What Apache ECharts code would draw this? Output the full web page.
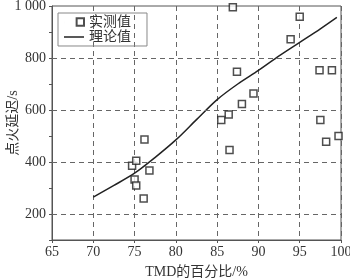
<!DOCTYPE html>
<html>
<head>
<meta charset="utf-8">
<script src="https://cdn.jsdelivr.net/npm/echarts@6/dist/echarts.min.js"></script>
<style>html,body{margin:0;padding:0;background:#fff;}#c{width:350px;height:278px;}</style>
</head>
<body>
<div id="c"></div>
<script>
var measuredX = [74.7, 75.2, 75.0, 75.2, 76.8, 76.1, 76.2, 86.9, 95.0, 93.9, 87.4, 97.4, 98.9, 89.4, 88.0, 86.4, 85.5, 97.5, 98.2, 99.7, 86.5];
var measuredY = [386, 405, 333, 310, 367, 260, 487, 995, 959, 872, 747, 753, 753, 663, 623, 583, 562, 562, 478, 500, 446];
var theoryX = [70, 72.5, 75, 77.5, 80, 82.5, 85, 87.5, 90, 92.5, 95, 97.5, 99.5];
var theoryY = [265, 310, 357, 418, 485, 563, 640, 700, 752, 808, 860, 912, 956];
var gridLinesY = [200, 400, 600, 800];
var seriesNames = ['实测值', '理论值'];

var FONT = "'Liberation Serif', 'Noto Sans CJK SC', serif";
var TXT = '#333';
var AX = '#555';

var chart = echarts.init(document.getElementById('c'));
chart.setOption({
  animation: false,
  textStyle: { fontFamily: FONT },
  grid: { left: 52, right: 9, top: 6, bottom: 38, show: true, borderColor: AX, borderWidth: 1, outerBoundsMode: 'none', containLabel: false },
  legend: {
    orient: 'vertical', left: 58, top: 13,
    data: [
      { name: seriesNames[0], icon: 'path://M0,4 L0.01,4 M12,0 H19 V7 H12 Z' },
      { name: seriesNames[1], icon: 'path://M0,0 H20 V1.5 H0 Z', itemStyle: { color: '#222', borderWidth: 0 } }
    ],
    borderColor: '#888', borderWidth: 1, padding: [2, 16, 2, 5],
    itemWidth: 20, itemHeight: 8, itemGap: 1,
    textStyle: { fontFamily: FONT, fontSize: 14, color: TXT }
  },
  xAxis: {
    type: 'value', min: 65, max: 100, interval: 5,
    name: 'TMD的百分比/%', nameLocation: 'middle', nameGap: 25, nameMoveOverlap: false,
    nameTextStyle: { fontFamily: FONT, fontSize: 14, color: TXT },
    axisLine: { lineStyle: { color: AX } },
    axisTick: { show: true, length: 3, lineStyle: { color: AX } },
    axisLabel: { fontFamily: FONT, fontSize: 14, color: TXT, margin: 5 },
    splitLine: { show: true, lineStyle: { type: [5, 4], color: '#666' } }
  },
  yAxis: {
    type: 'value', min: 100, max: 1000, interval: 100,
    name: '点火延迟/s', nameLocation: 'middle', nameGap: 32, nameRotate: 90, nameMoveOverlap: false,
    nameTextStyle: { fontFamily: FONT, fontSize: 14, color: TXT },
    axisLine: { show: true, lineStyle: { color: AX } },
    axisTick: { show: true, length: 3, lineStyle: { color: AX } },
    axisLabel: {
      fontFamily: FONT, fontSize: 14, color: TXT, margin: 6,
      formatter: function (v) { if (v % 200 !== 0) return ''; return v >= 1000 ? '1 000' : String(v); }
    },
    splitLine: { show: false }
  },
  series: [
    {
      name: seriesNames[0], type: 'scatter',
      data: measuredX.map(function (x, i) { return [x, measuredY[i]]; }),
      symbol: 'rect', symbolSize: 7,
      itemStyle: { color: '#fff', borderColor: '#222', borderWidth: 1.5 },
      z: 5
    },
    {
      name: seriesNames[1], type: 'line', smooth: 0.3,
      data: theoryX.map(function (x, i) { return [x, theoryY[i]]; }),
      symbol: 'none', showSymbol: false,
      lineStyle: { color: '#222', width: 1.5 },
      itemStyle: { color: '#222' },
      z: 4,
      markLine: {
        silent: true, symbol: 'none', label: { show: false },
        lineStyle: { type: [5, 4], color: '#666', width: 1 },
        data: gridLinesY.map(function (v) { return { yAxis: v }; })
      }
    }
  ]
});
</script>
</body>
</html>
